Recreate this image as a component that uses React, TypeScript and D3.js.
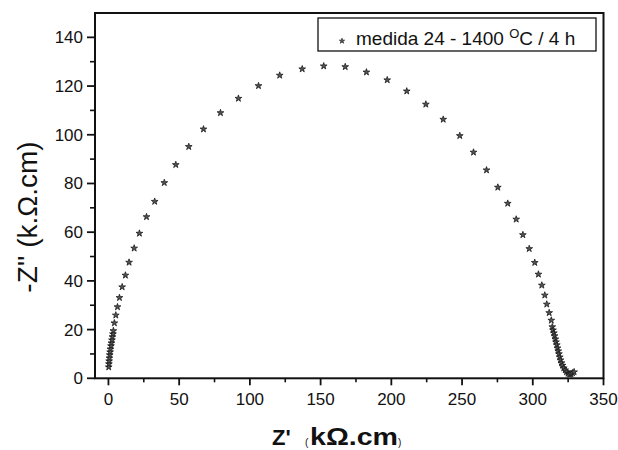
import React from "react";
import * as d3 from "d3";

const zReal: number[] = [
  0.2, 0.35, 0.5, 0.7, 0.9, 1.2, 1.4, 1.8, 2.1, 2.5, 2.8, 3.2, 3.5, 4.2, 5.2, 6.4, 7.8, 9.7,
  12.0, 14.6, 18.2, 21.9, 26.9, 32.7, 39.5, 47.6, 56.8, 67.2, 79.2, 91.9, 106.1, 121.1, 137.0,
  152.2, 167.4, 182.4, 197.1, 210.9, 224.4, 236.7, 248.4, 258.1, 267.3, 275.3, 282.3, 288.3,
  293.0, 297.5, 301.4, 304.0, 306.4, 308.5, 309.9, 311.6, 313.1, 313.8, 314.3, 314.9, 315.4,
  316.0, 316.4, 317.0, 317.5, 318.0, 318.5, 319.1, 319.6, 320.3, 321.0, 321.9, 322.9, 323.8,
  324.9, 326.0, 327.0, 328.1, 329.2,
];
const zImag: number[] = [
  4.6, 5.9, 7.1, 8.3, 9.6, 10.8, 12.0, 13.3, 14.5, 15.7, 17.0, 18.2, 19.5, 22.7, 25.9, 29.3, 33.1,
  37.5, 42.3, 47.6, 53.4, 59.5, 66.3, 72.6, 80.3, 87.7, 95.1, 102.3, 109.0, 114.9, 120.1, 124.4,
  127.0, 128.2, 127.9, 125.7, 122.5, 117.9, 112.5, 106.3, 99.6, 92.8, 85.5, 78.4, 71.8, 65.3,
  58.9, 53.2, 47.5, 42.7, 38.2, 34.1, 30.4, 26.9, 23.8, 21.1, 19.8, 18.6, 17.4, 16.1, 14.9, 13.7,
  12.4, 11.2, 10.0, 8.7, 7.5, 6.3, 5.3, 4.2, 3.4, 2.6, 2.0, 1.6, 1.8, 2.2, 2.6,
];

const xMajorTicks: number[] = [0, 50, 100, 150, 200, 250, 300, 350];
const xMinorTicks: number[] = [25, 75, 125, 175, 225, 275, 325];
const yMajorTicks: number[] = [0, 20, 40, 60, 80, 100, 120, 140];
const yMinorTicks: number[] = [10, 30, 50, 70, 90, 110, 130];

const legendLabel = "medida 24 - 1400 ";
const legendSup = "O";
const legendTail = "C / 4 h";
const yTitle = "-Z'' (k.Ω.cm)";
const xTitleMain = "Z'";
const xTitleUnit = "kΩ.cm";

export default function App() {
  const W = 618;
  const H = 450;
  const left = 95, right = 603.5, top = 13, bottom = 378.3;
  const x = d3.scaleLinear().domain([-9.5, 350]).range([left, right]);
  const y = d3.scaleLinear().domain([0, 150]).range([bottom, top]);
  const star = d3.symbol().type(d3.symbolStar).size(14)();
  const starLegend = d3.symbol().type(d3.symbolStar).size(9)();
  const font = "Liberation Sans, Arial, sans-serif";

  return (
    <svg width={W} height={H} style={{ position: "absolute", left: 0, top: 0, background: "#fff" }}>
      <rect x={0} y={0} width={W} height={H} fill="#fff" />
      {/* frame */}
      <rect x={left} y={top} width={right - left} height={bottom - top} fill="none" stroke="#111" strokeWidth={2} />
      {/* y ticks */}
      {yMajorTicks.map((t) => (
        <g key={"ym" + t}>
          <line x1={left - 8} x2={left} y1={y(t)} y2={y(t)} stroke="#111" strokeWidth={1.8} />
          <text x={left - 12} y={y(t)} dy="0.35em" textAnchor="end" fontFamily={font} fontSize={17} fill="#111">
            {t}
          </text>
        </g>
      ))}
      {yMinorTicks.map((t) => (
        <line key={"yn" + t} x1={left - 5} x2={left} y1={y(t)} y2={y(t)} stroke="#111" strokeWidth={1.6} />
      ))}
      {/* x ticks */}
      {xMajorTicks.map((t) => (
        <g key={"xm" + t}>
          <line x1={x(t)} x2={x(t)} y1={bottom} y2={bottom + 7} stroke="#111" strokeWidth={1.8} />
          <text x={x(t)} y={bottom + 27} textAnchor="middle" fontFamily={font} fontSize={17} fill="#111">
            {t}
          </text>
        </g>
      ))}
      {xMinorTicks.map((t) => (
        <line key={"xn" + t} x1={x(t)} x2={x(t)} y1={bottom} y2={bottom + 4} stroke="#111" strokeWidth={1.6} />
      ))}
      {/* data */}
      {zReal.map((v, i) => (
        <path
          key={"p" + i}
          d={star}
          transform={`translate(${x(v)},${y(zImag[i])})`}
          fill="#555"
          stroke="#1a1a1a"
          strokeWidth={0.8}
        />
      ))}
      {/* legend */}
      <rect x={318} y={18} width={278} height={33} fill="#fff" stroke="#111" strokeWidth={1.3} />
      <path d={starLegend} transform="translate(342,41)" fill="#555" stroke="#1a1a1a" strokeWidth={0.6} />
      <text x={356} y={45} fontFamily={font} fontSize={19} fill="#111">
        {legendLabel}
        <tspan fontSize={13} dy={-7}>{legendSup}</tspan>
        <tspan dy={7}>{legendTail}</tspan>
      </text>
      {/* y title */}
      <text
        transform="translate(37,217) rotate(-90)"
        textAnchor="middle"
        fontFamily={font}
        fontSize={28}
        fill="#111"
      >
        {yTitle}
      </text>
      {/* x title */}
      <text x={272} y={445} fontFamily={font} fontSize={22} fontWeight="bold" fill="#111">
        {xTitleMain}
      </text>
      <text x={305} y={446} fontFamily={font} fontSize={10} fill="#111">(</text>
      <text x={310} y={445} fontFamily={font} fontSize={24} fontWeight="bold" fill="#111" textLength={88} lengthAdjust="spacingAndGlyphs">
        {xTitleUnit}
      </text>
      <text x={398} y={446} fontFamily={font} fontSize={10} fill="#111">)</text>
    </svg>
  );
}
